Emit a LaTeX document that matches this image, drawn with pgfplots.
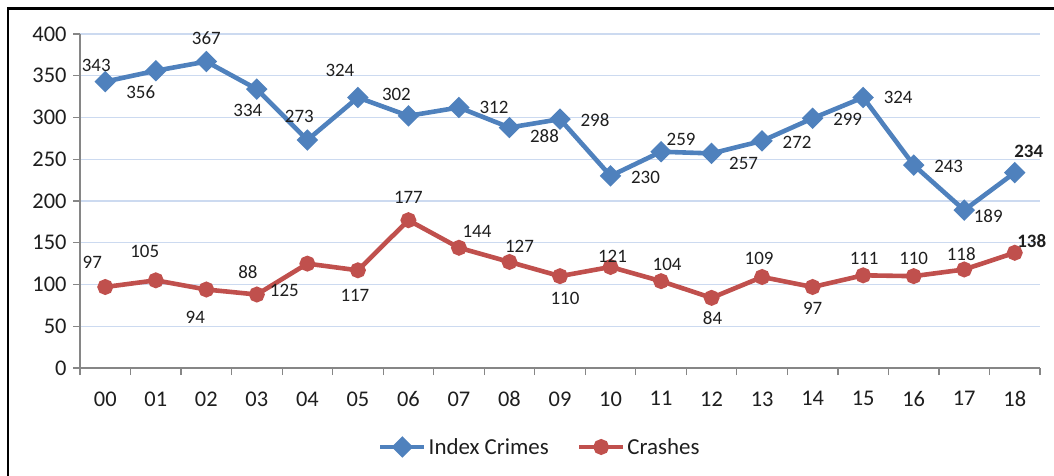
\documentclass[border=0pt]{standalone}
\usepackage{pgfplots}
\pgfplotsset{compat=1.18}
\usepackage{pgfplotstable}
\usepackage{fontspec}
\setmainfont{Carlito}
\definecolor{ibl}{HTML}{4F81BD}
\definecolor{ird}{HTML}{C0504D}
\definecolor{grd}{HTML}{CCDAF0}
\definecolor{axg}{HTML}{868686}
\definecolor{txt}{HTML}{1E1E1E}

\pgfplotstableread{
x y dx dy b
0 343 -9 16 0
1 356 -15 -21 0
2 367 0 23 0
3 334 -9 -21 0
4 273 -8 24 0
5 324 -18 27 0
6 302 -12 21 0
7 312 35 0 0
8 288 35 -9 0
9 298 35 -1 0
10 230 35 -1 0
11 259 20 12 0
12 257 32 -10 0
13 272 35 -1 0
14 299 35 -1 0
15 324 35 0 0
16 243 35 -1 0
17 189 24 -6 0
18 234 14 21 1
}\crimes

\pgfplotstableread{
x y dx dy b
0 97 -13 25 0
1 105 -11 29 0
2 94 -11 -28 0
3 88 -9 22 0
4 125 -23 -27 0
5 117 -3 -25 0
6 177 0 23 0
7 144 18 16 0
8 127 10 16 0
9 110 5 -22 0
10 121 2 11 0
11 104 6 17 0
12 84 1 -20 0
13 109 -3 19 0
14 97 0 -21 0
15 111 1 17 0
16 110 0 18 0
17 118 -3 15 0
18 138 17 12 1
}\crashes

\begin{document}
\begin{tikzpicture}
\begin{axis}[
  at={(80bp,108bp)}, anchor=south west,
  scale only axis, width=960bp, height=334bp,
  clip=false,
  xmin=-0.5, xmax=18.5, ymin=0, ymax=400,
  axis x line=bottom, axis y line=left,
  axis line style={-, draw=axg, line width=1.2bp},
  tick align=outside,
  major tick length=7bp, minor tick length=7bp,
  xtick={0,...,18},
  xticklabels={00,01,02,03,04,05,06,07,08,09,10,11,12,13,14,15,16,17,18},
  xtick style={draw=none},
  minor xtick={-0.5,0.5,...,18.5},
  minor x tick style={draw=axg, line width=1.2bp},
  ytick={0,50,...,400},
  ytick style={draw=axg, line width=1.2bp},
  ymajorgrids,
  major grid style={draw=grd, line width=1.2bp},
  /pgf/number format/assume math mode=true,
  ticklabel style={font=\fontsize{22.5}{22.5}\selectfont, text=txt},
  xticklabel style={yshift=-13bp},
  yticklabel style={xshift=-3bp},
  legend columns=2,
  legend style={at={(0.479,-0.2365)}, anchor=center, draw=none, fill=none,
    font=\fontsize{23}{23}\selectfont, text=txt,
    /tikz/every even column/.append style={column sep=26bp},
    inner sep=0pt},
  legend image code/.code={\draw[mark repeat=2,mark phase=2] plot coordinates {(0bp,0bp) (22bp,0bp) (44bp,0bp)};},
]
\addplot[ibl, line width=4.6bp, mark=square*, mark size=5.3bp, mark options={rotate=45, solid, fill=ibl},
  visualization depends on={\thisrow{dx} \as \dx},
  visualization depends on={\thisrow{dy} \as \dy},
  visualization depends on={\thisrow{b} \as \isb},
  nodes near coords={\ifdim\isb pt>0.5pt \bfseries\fi\pgfmathprintnumber{\pgfplotspointmeta}},
  every node near coord/.append style={anchor=center, xshift=\dx bp, yshift=\dy bp,
    font=\fontsize{19}{19}\selectfont, text=txt, /pgf/number format/assume math mode=true},
  ] table[x=x,y=y] {\crimes};
\addlegendentry{Index Crimes}
\addplot[ird, line width=4.6bp, mark=*, mark size=5.6bp, mark options={solid, fill=ird},
  visualization depends on={\thisrow{dx} \as \dx},
  visualization depends on={\thisrow{dy} \as \dy},
  visualization depends on={\thisrow{b} \as \isb},
  nodes near coords={\ifdim\isb pt>0.5pt \bfseries\fi\pgfmathprintnumber{\pgfplotspointmeta}},
  every node near coord/.append style={anchor=center, xshift=\dx bp, yshift=\dy bp,
    font=\fontsize{19}{19}\selectfont, text=txt, /pgf/number format/assume math mode=true},
  ] table[x=x,y=y] {\crashes};
\addlegendentry{Crashes}
\end{axis}
\draw[black, line width=2.5bp] (8bp,-5bp) -- (8bp,467.5bp) -- (1060bp,467.5bp);
\pgfresetboundingbox
\path[use as bounding box] (0,0) rectangle (1054bp,476bp);
\end{tikzpicture}
\end{document}
